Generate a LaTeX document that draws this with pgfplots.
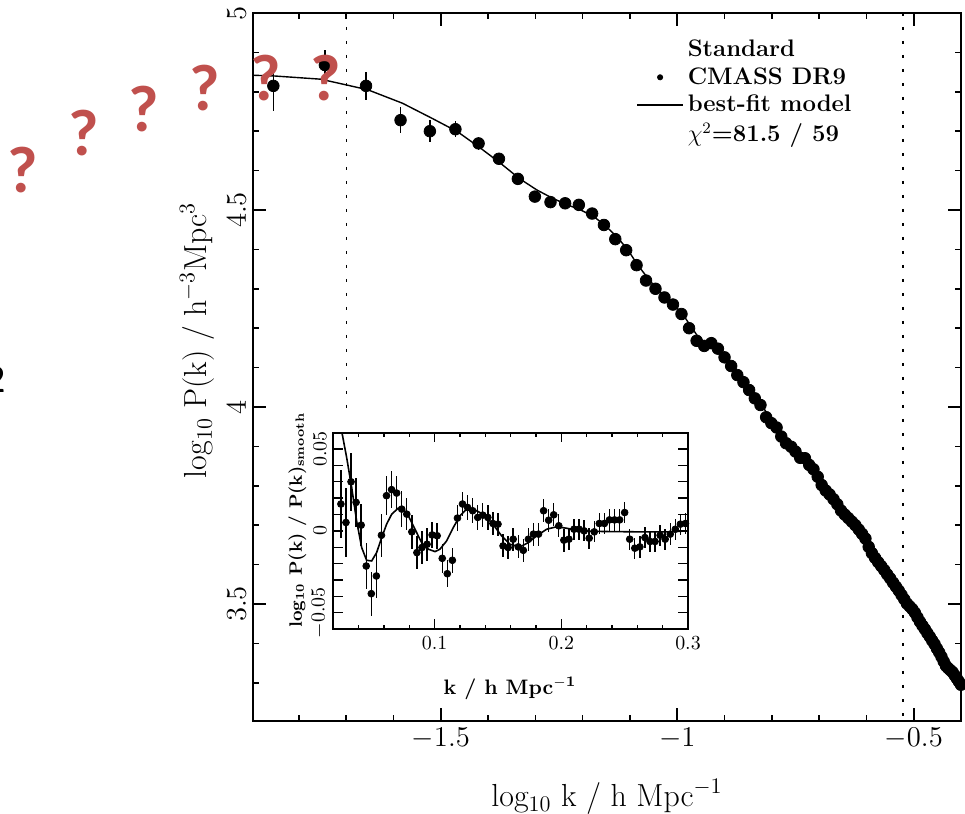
\documentclass[border=0pt]{standalone}
\usepackage{fontspec}
\newfontfamily\calibri{Carlito}
\usepackage{pgfplots}
\pgfplotsset{compat=1.18}
\usepackage{pgfplotstable}

\definecolor{qred}{RGB}{192,80,77}

\pgfplotsset{
  longline legend/.style={legend image code/.code={\draw[##1] (0bp,0bp) -- (23bp,0bp);}},
  dot legend/.style={legend image code/.code={\draw[mark repeat=2, mark phase=2, ##1] plot coordinates {(0bp,0bp) (11.5bp,0bp) (23bp,0bp)};}},
}

% CMASS DR9 power spectrum: log10 k, log10 P(k), error
\pgfplotstableread{
x y ey
-1.854 4.815 0.065
-1.745 4.868 0.038
-1.658 4.815 0.035
-1.585 4.728 0.033
-1.523 4.700 0.028
-1.469 4.705 0.020
-1.420 4.669 0.016
-1.377 4.630 0.014
-1.337 4.579 0.012
-1.301 4.534 0.010
-1.268 4.520 0.008
-1.237 4.517 0.007
-1.208 4.513 0.006
-1.180 4.491 0
-1.155 4.462 0
-1.131 4.426 0
-1.108 4.398 0
-1.086 4.360 0
-1.066 4.321 0
-1.046 4.300 0
-1.027 4.278 0
-1.009 4.260 0
-0.991 4.236 0
-0.975 4.200 0
-0.959 4.168 0
-0.943 4.155 0
-0.928 4.162 0
-0.914 4.148 0
-0.900 4.126 0
-0.886 4.104 0
-0.873 4.081 0
-0.860 4.063 0
-0.848 4.043 0
-0.836 4.022 0
-0.824 4.005 0
-0.812 3.974 0
-0.801 3.959 0
-0.790 3.948 0
-0.780 3.925 0
-0.770 3.908 0
-0.759 3.899 0
-0.750 3.887 0
-0.740 3.871 0
-0.730 3.870 0
-0.721 3.853 0
-0.712 3.842 0
-0.703 3.823 0
-0.6946 3.802 0
-0.6861 3.788 0
-0.6778 3.778 0
-0.6696 3.766 0
-0.6615 3.753 0
-0.6536 3.737 0
-0.6459 3.727 0
-0.6383 3.718 0
-0.6308 3.709 0
-0.6234 3.700 0
-0.6162 3.689 0
-0.6091 3.678 0
-0.6021 3.666 0
-0.5952 3.645 0
-0.5884 3.629 0
-0.5817 3.617 0
-0.5751 3.606 0
-0.5686 3.596 0
-0.5622 3.586 0
-0.5560 3.575 0
-0.5498 3.565 0
-0.5436 3.554 0
-0.5376 3.544 0
-0.5317 3.534 0
-0.5258 3.523 0
-0.5200 3.512 0
-0.5143 3.501 0
-0.5086 3.494 0
-0.5031 3.487 0
-0.4976 3.478 0
-0.4921 3.466 0
-0.4868 3.455 0
-0.4815 3.445 0
-0.4763 3.436 0
-0.4711 3.426 0
-0.4660 3.417 0
-0.4609 3.407 0
-0.4559 3.398 0
-0.4510 3.387 0
-0.4461 3.377 0
-0.4413 3.366 0
-0.4365 3.354 0
-0.4318 3.343 0
-0.4271 3.337 0
-0.4225 3.332 0
-0.4179 3.327 0
-0.4134 3.319 0
-0.4089 3.311 0
-0.4045 3.303 0
-0.4001 3.295 0
}\mainpk

% best-fit model
\pgfplotstableread{
x y
-1.897 4.842
-1.850 4.840
-1.754 4.832
-1.698 4.817
-1.654 4.805
-1.581 4.771
-1.519 4.733
-1.465 4.699
-1.417 4.658
-1.373 4.618
-1.334 4.580
-1.297 4.551
-1.264 4.530
-1.232 4.513
-1.204 4.500
-1.176 4.483
-1.151 4.459
-1.127 4.431
-1.105 4.400
-1.085 4.363
-1.061 4.325
-1.042 4.299
-1.022 4.276
-1.004 4.256
-0.987 4.233
-0.972 4.206
-0.957 4.180
-0.941 4.163
-0.924 4.150
-0.910 4.138
-0.896 4.122
-0.882 4.102
-0.869 4.081
-0.856 4.062
-0.844 4.042
-0.832 4.022
-0.820 4.002
-0.807 3.978
-0.797 3.961
-0.786 3.945
-0.776 3.928
-0.765 3.912
-0.755 3.898
-0.744 3.884
-0.735 3.870
-0.725 3.856
-0.715 3.841
-0.700 3.818
-0.650 3.733
-0.600 3.653
-0.550 3.565
-0.500 3.481
-0.450 3.389
-0.400 3.296
}\mainmodel

% BAO residual: k, log10 P/Psmooth, error
\pgfplotstableread{
k r e
0.026 0.0164 0.021
0.030 0.0051 0.021
0.034 0.0300 0.0176
0.038 0.0174 0.015
0.042 0.0035 0.013
0.046 -0.0215 0.014
0.050 -0.0384 0.0135
0.054 -0.0276 0.0133
0.058 -0.0027 0.013
0.062 0.0215 0.012
0.066 0.0252 0.0112
0.070 0.0231 0.0106
0.074 0.0133 0.011
0.078 0.0102 0.0099
0.082 -0.0006 0.0102
0.086 -0.0133 0.0102
0.090 -0.0102 0.010
0.094 -0.0082 0.010
0.098 -0.0025 0.008
0.102 -0.0030 0.008
0.106 -0.0168 0.0087
0.110 -0.0262 0.0082
0.114 -0.0180 0.0077
0.118 0.0078 0.008
0.122 0.0164 0.0072
0.126 0.0143 0.0075
0.130 0.0123 0.0075
0.134 0.0082 0.0075
0.138 0.0096 0.0075
0.142 0.0082 0.0075
0.146 0.0045 0.007
0.150 0.0041 0.007
0.154 -0.0092 0.007
0.158 -0.0102 0.007
0.162 -0.0051 0.007
0.166 -0.0098 0.007
0.170 -0.0119 0.007
0.174 -0.0051 0.007
0.178 -0.0020 0.007
0.182 -0.0020 0.007
0.186 0.0123 0.007
0.190 0.0065 0.007
0.194 0.0098 0.007
0.198 0.0031 0.007
0.202 -0.0057 0.007
0.206 -0.0051 0.0065
0.210 0.0010 0.0065
0.214 0.0010 0.0065
0.218 0.0000 0.0065
0.222 -0.0045 0.0065
0.226 -0.0006 0.0065
0.230 0.0045 0.0065
0.234 0.0045 0.0065
0.238 0.0067 0.0065
0.242 0.0067 0.0065
0.246 0.0067 0.0065
0.250 0.0112 0.0065
0.254 -0.0051 0.0065
0.258 -0.0106 0.0065
0.262 -0.0098 0.0065
0.266 -0.0041 0.0065
0.270 -0.0065 0.0065
0.274 -0.0065 0.0065
0.278 -0.0027 0.0065
0.282 -0.0051 0.0065
0.286 -0.0020 0.0065
0.290 0.0010 0.0065
0.294 0.0041 0.0065
0.298 0.0045 0.0065
}\baores

\pgfplotstableread{
k r
0.0220 0.0780
0.0266 0.0610
0.0305 0.0450
0.0345 0.0266
0.0384 0.0061
0.0424 -0.0102
0.0463 -0.0180
0.0503 -0.0184
0.0542 -0.0133
0.0582 -0.0041
0.0621 0.0041
0.0661 0.0102
0.0713 0.0139
0.0753 0.0133
0.0792 0.0092
0.0845 0.0010
0.0897 -0.0072
0.0950 -0.0112
0.1003 -0.0127
0.1042 -0.0112
0.1095 -0.0061
0.1147 0.0020
0.1200 0.0092
0.1253 0.0133
0.1305 0.0133
0.1358 0.0112
0.1411 0.0082
0.1463 0.0037
0.1529 -0.0031
0.1595 -0.0082
0.1674 -0.0098
0.1739 -0.0072
0.1805 -0.0031
0.1884 0.0010
0.1963 0.0025
0.2042 0.0016
0.2147 0.0000
0.2332 -0.0004
0.2595 -0.0006
0.2858 -0.0006
0.3000 0.0000
}\baomodel

\begin{document}
\begin{tikzpicture}
\path[use as bounding box] (-126.5bp,-46.5bp) rectangle (356bp,360.5bp);

\begin{axis}[
  at={(0bp,0bp)}, anchor=south west,
  scale only axis, width=354bp, height=354bp,
  xmin=-1.897, xmax=-0.40, ymin=3.203, ymax=5,
  xtick={-1.5,-1,-0.5},
  minor xtick={-1.8,-1.7,-1.6,-1.4,-1.3,-1.2,-1.1,-0.9,-0.8,-0.7,-0.6,-0.4},
  ytick={3.5,4,4.5,5},
  minor ytick={3.3,3.4,3.6,3.7,3.8,3.9,4.1,4.2,4.3,4.4,4.6,4.7,4.8,4.9},
  tick align=inside,
  major tick length=6.5bp, minor tick length=3bp,
  axis line style={line width=1bp},
  tick style={black, line width=0.8bp},
  tick label style={font=\fontsize{15}{18}\selectfont},
  yticklabel style={rotate=90, anchor=south},
  xlabel={log\textsubscript{10} k / h Mpc\textsuperscript{$-$1}},
  ylabel={log\textsubscript{10} P(k) / h\textsuperscript{$-$3}Mpc\textsuperscript{3}},
  xlabel style={at={(axis description cs:0.5,-0.1065)}, anchor=center, font=\fontsize{16}{19}\selectfont},
  ylabel style={at={(axis description cs:-0.079,0.538)}, anchor=center, font=\fontsize{16}{19}\selectfont},
  legend cell align=left,
  legend style={draw=none, fill=none, at={(rel axis cs:0.5325,0.974)}, anchor=north west,
    font=\bfseries\fontsize{12}{14}\selectfont, row sep=0pt},
]
\addlegendimage{empty legend}
\addlegendentry{Standard}
\addlegendimage{only marks, mark=*, mark size=1.3bp, black, dot legend}
\addlegendentry{CMASS DR9}
\addlegendimage{black, line width=0.7bp, longline legend}
\addlegendentry{best-fit model}
\addlegendimage{empty legend}
\addlegendentry{$\chi^2$=81.5 / 59}

% fitting range limits
\addplot[black, line width=0.8bp, dash pattern=on 1.5bp off 5.5bp, forget plot]
  coordinates {(-1.699,5) (-1.699,3.97)};
\addplot[black, line width=0.8bp, dash pattern=on 1.5bp off 5.5bp, forget plot]
  coordinates {(-0.523,5) (-0.523,3.203)};

\addplot[black, line width=0.7bp, forget plot] table[x=x, y=y] {\mainmodel};
\addplot[only marks, mark=*, mark size=2.9bp, black, forget plot,
  error bars/.cd, y dir=both, y explicit, error mark=none,
  error bar style={line width=0.8bp}]
  table[x=x, y=y, y error=ey] {\mainpk};
\end{axis}

\begin{axis}[
  at={(40.15bp,46bp)}, anchor=south west,
  scale only axis, width=177.35bp, height=98.15bp,
  xmin=0.02, xmax=0.3, ymin=-0.06, ymax=0.06,
  axis background/.style={fill=white},
  xtick={0.1,0.2,0.3},
  xticklabels={0.1,0.2,0.3},
  minor xtick={0.04,0.06,0.08,0.12,0.14,0.16,0.18,0.22,0.24,0.26,0.28},
  ytick={-0.05,-0.04,-0.03,-0.02,-0.01,0,0.01,0.02,0.03,0.04,0.05},
  yticklabels={$-0.05$,,,,,$0$,,,,,$0.05$},
  scaled ticks=false,
  tick align=inside,
  major tick length=4.8bp, minor tick length=2.2bp,
  axis line style={line width=0.9bp},
  tick style={black, line width=0.7bp},
  tick label style={font=\fontsize{10}{12}\selectfont},
  yticklabel style={rotate=90, anchor=south},
  xlabel={\bfseries k / h Mpc\textsuperscript{$\mathbf{-}$1}},
  ylabel={\bfseries log\textsubscript{10} P(k) / P(k)\textsubscript{smooth}},
  xlabel style={at={(axis description cs:0.498,-0.30)}, anchor=center, font=\fontsize{10.5}{12}\selectfont},
  ylabel style={at={(axis description cs:-0.1015,0.555)}, anchor=center, font=\fontsize{9}{11}\selectfont},
]
\addplot[black, line width=0.8bp] table[x=k, y=r] {\baomodel};
\addplot[only marks, mark=*, mark size=1.7bp, black,
  error bars/.cd, y dir=both, y explicit, error mark=none,
  error bar style={line width=0.7bp}]
  table[x=k, y=r, y error=e] {\baores};
\end{axis}

% annotations drawn over the figure
\begin{scope}[every node/.style={text=qred, font=\calibri\bfseries\fontsize{33}{33}\selectfont, inner sep=0pt}]
\node at (-115bp,275.5bp) {?};
\node at (-84.5bp,294bp) {?};
\node at (-54.5bp,306bp) {?};
\node at (-24bp,316.5bp) {?};
\node at (6.5bp,321.5bp) {?};
\node at (36.5bp,321.5bp) {?};
\end{scope}
\node[anchor=east, inner sep=0pt, font=\calibri\fontsize{20}{20}\selectfont] at (-123.5bp,170.5bp) {2};
\end{tikzpicture}
\end{document}
